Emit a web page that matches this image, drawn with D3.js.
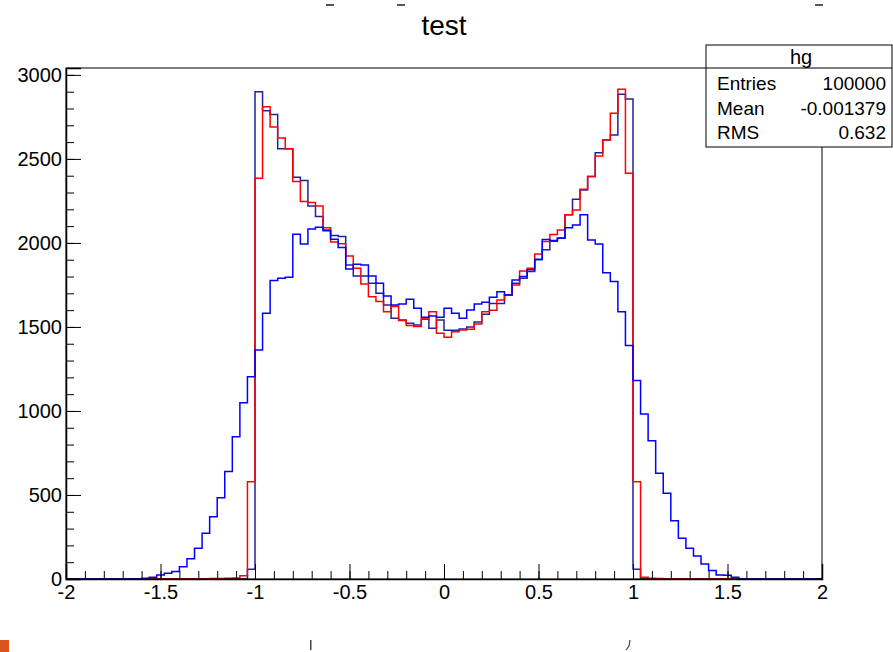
<!DOCTYPE html>
<html>
<head>
<meta charset="utf-8">
<script src="https://cdnjs.cloudflare.com/ajax/libs/d3/7.8.5/d3.min.js"></script>
<style>
  body { margin: 0; background: #fff; }
  svg text { font-family: "Liberation Sans", Arial, Helvetica, sans-serif; fill: #000; }
</style>
</head>
<body>
<div class="chart"></div>
<script>
var width = 893;
var height = 652;

// histogram binning: 100 bins from -2 to 2
var xMin = -2, xMax = 2, nBins = 100;

// smeared distribution (bright blue)
var smeared = [
  0, 0, 0, 0, 0, 0, 0, 0, 0, 2,
  4, 10, 24, 34, 44, 73, 121, 183, 272, 371,
  484, 639, 847, 1049, 1204, 1363, 1581, 1776, 1790, 1796,
  2051, 1994, 2083, 2093, 2073, 2022, 1973, 1845, 1873, 1869,
  1803, 1760, 1684, 1631, 1637, 1665, 1611, 1558, 1565, 1558,
  1611, 1581, 1552, 1601, 1637, 1647, 1677, 1710, 1690, 1780,
  1800, 1840, 1903, 2020, 2014, 2030, 2091, 2107, 2167, 2018,
  1994, 1823, 1770, 1591, 1389, 1181, 982, 823, 629, 510,
  347, 242, 183, 137, 89, 50, 24, 22, 10, 2,
  0, 0, 0, 0, 0, 0, 0, 0, 0, 0
];

// sharp distribution (dark blue)
var sharp = [
  0, 0, 0, 0, 0, 0, 0, 0, 0, 0,
  0, 0, 0, 0, 0, 0, 0, 0, 0, 0,
  0, 0, 0, 0, 58, 2900, 2787, 2764, 2561, 2561,
  2391, 2371, 2220, 2157, 2077, 2044, 2038, 1869, 1803, 1803,
  1760, 1700, 1631, 1552, 1541, 1522, 1512, 1546, 1492, 1541,
  1480, 1480, 1488, 1500, 1530, 1575, 1640, 1640, 1690, 1760,
  1790, 1830, 1900, 1960, 2010, 2028, 2167, 2260, 2315, 2395,
  2537, 2613, 2643, 2885, 2857, 58, 0, 0, 0, 0,
  0, 0, 0, 0, 0, 0, 0, 0, 0, 0,
  0, 0, 0, 0, 0, 0, 0, 0, 0, 0
];

// slightly smeared distribution (red)
var red = [
  0, 0, 0, 0, 0, 0, 0, 0, 0, 0,
  0, 0, 1, 1, 1, 1, 1, 2, 2, 3,
  3, 4, 6, 20, 579, 2385, 2811, 2690, 2625, 2561,
  2365, 2246, 2240, 2220, 2091, 2005, 1995, 1922, 1849, 1756,
  1680, 1651, 1591, 1621, 1538, 1508, 1502, 1548, 1591, 1462,
  1439, 1472, 1482, 1486, 1518, 1591, 1600, 1661, 1690, 1750,
  1833, 1849, 1934, 2008, 2050, 2077, 2168, 2196, 2319, 2395,
  2518, 2613, 2772, 2915, 2415, 579, 10, 4, 3, 2,
  2, 1, 1, 1, 1, 1, 1, 1, 0, 0,
  0, 0, 0, 0, 0, 0, 0, 0, 0, 0
];

var xMajor = [-2, -1.5, -1, -0.5, 0, 0.5, 1, 1.5, 2];
var xLabels = ['-2', '-1.5', '-1', '-0.5', '0', '0.5', '1', '1.5', '2'];
var yMajor = [0, 500, 1000, 1500, 2000, 2500, 3000];
var yMax = 3041;

var statLabels = ['Entries', 'Mean', 'RMS'];
var statValues = ['100000', '-0.001379', '0.632'];

var svg = d3.select('.chart')
  .append('svg')
  .attr('width', width)
  .attr('height', height);

var padL = 66, padR = 822, padT = 68, padB = 579;

var x = d3.scaleLinear().domain([xMin, xMax]).range([padL, padR]);
var y = d3.scaleLinear().domain([0, yMax]).range([padB, padT]);
var binW = (xMax - xMin) / nBins;

function histPath(vals) {
  var p = d3.path();
  p.moveTo(x(xMin), y(0));
  vals.forEach(function(v, i) {
    var lo = xMin + i * binW;
    p.lineTo(x(lo), y(v));
    p.lineTo(x(lo + binW), y(v));
  });
  p.lineTo(x(xMax), y(0));
  return p.toString();
}

// title
svg.append('text')
  .attr('x', 444).attr('y', 35)
  .attr('text-anchor', 'middle')
  .style('font-size', '28px')
  .text('test');

// histograms
svg.append('path').attr('d', histPath(sharp))
  .attr('fill', 'none').attr('stroke', '#22229c').attr('stroke-width', 1.5);
svg.append('path').attr('d', histPath(red))
  .attr('fill', 'none').attr('stroke', '#ff0000').attr('stroke-width', 1.5);
svg.append('path').attr('d', histPath(smeared))
  .attr('fill', 'none').attr('stroke', '#0000ff').attr('stroke-width', 1.5);

// frame
svg.append('rect')
  .attr('x', padL).attr('y', padT)
  .attr('width', padR - padL).attr('height', padB - padT)
  .attr('fill', 'none').attr('stroke', '#000').attr('stroke-width', 1);

// x axis
var xMinorTicks = d3.range(-20, 21).map(function(d) { return d / 10; });
svg.append('g')
  .attr('transform', 'translate(0,' + padB + ')')
  .call(d3.axisBottom(x).tickValues(xMinorTicks).tickSize(-8).tickFormat(''))
  .call(function(g) { g.select('.domain').remove(); });
svg.append('g')
  .attr('class', 'xaxis')
  .attr('transform', 'translate(0,' + padB + ')')
  .call(d3.axisBottom(x).tickValues(xMajor).tickSize(-15).tickPadding(6)
    .tickFormat(function(d, i) { return xLabels[i]; }))
  .call(function(g) { g.select('.domain').attr('stroke-width', 1.5); });

// y axis
var yMinorTicks = d3.range(0, 3001, 100);
svg.append('g')
  .attr('transform', 'translate(' + padL + ',0)')
  .call(d3.axisLeft(y).tickValues(yMinorTicks).tickSize(-8).tickFormat(''))
  .call(function(g) { g.select('.domain').remove(); });
svg.append('g')
  .attr('class', 'yaxis')
  .attr('transform', 'translate(' + padL + ',0)')
  .call(d3.axisLeft(y).tickValues(yMajor).tickSize(-15).tickPadding(4)
    .tickFormat(d3.format('d')))
  .call(function(g) { g.select('.domain').attr('stroke-width', 1.5); });

svg.selectAll('.tick line').attr('stroke', '#000');
svg.selectAll('.xaxis text, .yaxis text')
  .style('font-size', '20px')
  .attr('fill', '#000');

// stats box
var box = svg.append('g');
box.append('rect')
  .attr('x', 706).attr('y', 45).attr('width', 186).attr('height', 102)
  .attr('fill', '#fff').attr('stroke', '#000').attr('stroke-width', 1);
box.append('line')
  .attr('x1', 706).attr('x2', 892).attr('y1', 68).attr('y2', 68)
  .attr('stroke', '#000');
box.append('text')
  .attr('x', 801).attr('y', 64)
  .attr('text-anchor', 'middle')
  .style('font-size', '20px')
  .text('hg');
statLabels.forEach(function(s, i) {
  box.append('text')
    .attr('x', 717).attr('y', 90 + i * 24.5)
    .style('font-size', '19px')
    .text(s);
  box.append('text')
    .attr('x', 886).attr('y', 90 + i * 24.5)
    .attr('text-anchor', 'end')
    .style('font-size', '19px')
    .text(statValues[i]);
});

// cropped bits at the image edges
[[326, 4], [397, 4], [815, 4]].forEach(function(d) {
  svg.append('rect').attr('x', d[0]).attr('y', d[1]).attr('width', 8).attr('height', 2)
    .attr('fill', '#555');
});
svg.append('rect').attr('x', 0).attr('y', 640).attr('width', 9).attr('height', 12)
  .attr('fill', '#d9541e');
svg.append('rect').attr('x', 310).attr('y', 640).attr('width', 1.5).attr('height', 10)
  .attr('fill', '#444');
svg.append('path').attr('d', 'M626,650 L629,646 L630,640')
  .attr('fill', 'none').attr('stroke', '#444').attr('stroke-width', 1.2);
</script>
</body>
</html>
